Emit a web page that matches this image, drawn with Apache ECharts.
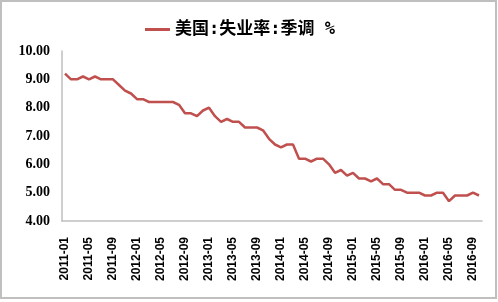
<!DOCTYPE html>
<html>
<head>
<meta charset="utf-8">
<script src="https://cdn.jsdelivr.net/npm/echarts@6/dist/echarts.min.js"></script>
<style>
html,body{margin:0;padding:0;background:#fff;}
#c{width:498px;height:302px;}
</style>
</head>
<body>
<div id="c"></div>
<script>
const seriesName = '美国:失业率:季调 %';
const months = [];
const years = [2011, 2012, 2013, 2014, 2015, 2016];
const unemployment = [
  9.2, 9.0, 9.0, 9.1, 9.0, 9.1, 9.0, 9.0, 9.0, 8.8, 8.6, 8.5,
  8.3, 8.3, 8.2, 8.2, 8.2, 8.2, 8.2, 8.1, 7.8, 7.8, 7.7, 7.9,
  8.0, 7.7, 7.5, 7.6, 7.5, 7.5, 7.3, 7.3, 7.3, 7.2, 6.9, 6.7,
  6.6, 6.7, 6.7, 6.2, 6.2, 6.1, 6.2, 6.2, 6.0, 5.7, 5.8, 5.6,
  5.7, 5.5, 5.5, 5.4, 5.5, 5.3, 5.3, 5.1, 5.1, 5.0, 5.0, 5.0,
  4.9, 4.9, 5.0, 5.0, 4.7, 4.9, 4.9, 4.9, 5.0, 4.9
];
for (const y of years) {
  for (let m = 1; m <= 12; m++) {
    if (months.length < unemployment.length) months.push(y + '-' + (m < 10 ? '0' + m : m));
  }
}
const chart = echarts.init(document.getElementById('c'), null, {renderer: 'canvas'});
chart.setOption({
  animation: false,
  backgroundColor: '#fff',
  graphic: [{
    type: 'rect',
    shape: {x: 1, y: 1, width: 495, height: 297},
    style: {fill: 'none', stroke: '#bfbfbf', lineWidth: 2},
    silent: true
  }],
  legend: {
    top: 16,
    left: 140,
    itemWidth: 25,
    itemHeight: 3,
    icon: 'rect',
    textStyle: {fontFamily: '"DejaVu Sans Mono", "Noto Sans CJK SC"', fontWeight: 'bold', fontSize: 17, color: '#000'},
    data: [{name: seriesName, icon: 'rect'}]
  },
  grid: {left: 62, right: 16, top: 51, bottom: 81, containLabel: false},
  xAxis: {
    type: 'category',
    data: months,
    boundaryGap: true,
    axisLine: {lineStyle: {color: '#bfbfbf', width: 1.5}},
    axisTick: {show: false},
    axisLabel: {
      interval: 3,
      rotate: 90,
      margin: 16,
      fontFamily: 'Liberation Sans, Arial',
      fontWeight: 'bold',
      fontSize: 12,
      color: '#000'
    },
    splitLine: {show: false}
  },
  yAxis: {
    type: 'value',
    min: 4,
    max: 10,
    interval: 1,
    axisLine: {show: true, lineStyle: {color: '#bfbfbf', width: 1.5}},
    axisTick: {show: false},
    splitLine: {show: false},
    axisLabel: {
      margin: 12,
      fontFamily: 'Liberation Serif, Times New Roman',
      fontWeight: 'bold',
      fontSize: 14,
      color: '#000',
      formatter: v => v.toFixed(2)
    }
  },
  series: [{
    name: seriesName,
    type: 'line',
    data: unemployment,
    symbol: 'none',
    lineStyle: {color: '#C0504D', width: 2.5},
    itemStyle: {color: '#C0504D'}
  }]
});
</script>
</body>
</html>
